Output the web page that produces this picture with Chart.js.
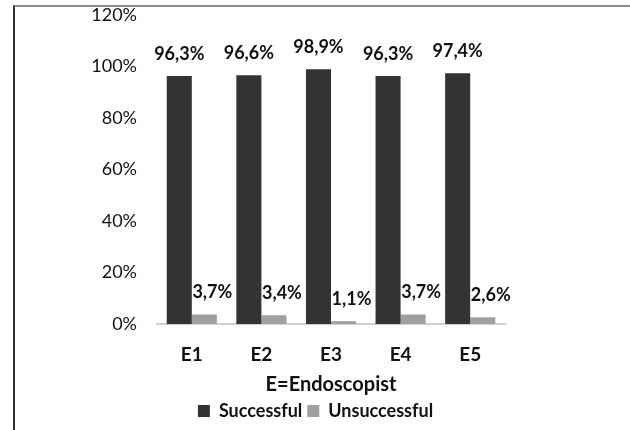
<!DOCTYPE html>
<html>
<head>
<meta charset="utf-8">
<script src="https://cdn.jsdelivr.net/npm/chart.js@4"></script>
<style>
  html, body { margin: 0; padding: 0; background: #fff; }
  #wrap { position: relative; width: 630px; height: 430px; overflow: hidden; }
  #frame { position: absolute; left: 13px; top: 5px; width: 640px; height: 440px;
           border-top: 2px solid #8a8a8a; border-left: 2px solid #333; }
  canvas { position: absolute; left: 0; top: 0; }
</style>
</head>
<body>
<div id="wrap">
  <div id="frame"></div>
  <canvas id="chart" width="630" height="430"></canvas>
</div>
<script>
const categories = ['E1', 'E2', 'E3', 'E4', 'E5'];
const successful = [96.3, 96.6, 98.9, 96.3, 97.4];
const unsuccessful = [3.7, 3.4, 1.1, 3.7, 2.6];
const yTicks = [0, 20, 40, 60, 80, 100, 120];

const FONT = 'Lato, "Open Sans", sans-serif';

// value labels above each bar, comma as decimal separator
const barLabels = {
  id: 'barLabels',
  afterDatasetsDraw(chart) {
    const ctx = chart.ctx;
    ctx.save();
    ctx.font = 'bold 18px ' + FONT;
    ctx.fillStyle = '#111';
    ctx.textAlign = 'center';
    ctx.textBaseline = 'middle';
    chart.data.datasets.forEach((ds, i) => {
      chart.getDatasetMeta(i).data.forEach((bar, j) => {
        const txt = ds.data[j].toFixed(1).replace('.', ',') + '%';
        const dx = i === 1 ? 8 : 0;
        ctx.fillText(txt, bar.x + dx, bar.y - 22);
      });
    });
    ctx.restore();
  }
};

// legend sits a bit right of the plot centre in the original
const shiftLegend = {
  id: 'shiftLegend',
  afterLayout(chart) {
    if (chart.legend) {
      chart.legend.left += 63;
      chart.legend.right += 63;
    }
  }
};

new Chart(document.getElementById('chart'), {
  type: 'bar',
  data: {
    labels: categories,
    datasets: [
      { label: 'Successful', data: successful, backgroundColor: '#333333' },
      { label: 'Unsuccessful', data: unsuccessful, backgroundColor: '#a0a0a0' }
    ]
  },
  options: {
    responsive: false,
    animation: false,
    layout: { padding: { left: 0, right: 125, top: 15, bottom: 0 } },
    datasets: { bar: { categoryPercentage: 0.72, barPercentage: 1 } },
    plugins: {
      legend: {
        position: 'bottom',
        labels: {
          boxWidth: 12, boxHeight: 12, padding: 5,
          color: '#111', font: { family: FONT, size: 18, weight: 'bold', lineHeight: 1 }
        }
      },
      tooltip: { enabled: false }
    },
    scales: {
      x: {
        afterFit(scale) { scale.height = 73; },
        grid: { display: false, drawTicks: false },
        border: { display: true, color: '#d0d0d0', width: 2 },
        ticks: { color: '#111', padding: 19, font: { family: FONT, size: 19, weight: 'bold' } },
        title: {
          display: true, text: 'E=Endoscopist', color: '#111',
          padding: { top: 4, bottom: 0 },
          font: { family: FONT, size: 20, weight: 'bold' }
        }
      },
      y: {
        min: 0, max: 120,
        afterFit(scale) {
          scale.width = 157;
          scale.paddingTop = 0;
          scale.paddingBottom = 0;
        },
        afterBuildTicks(scale) { scale.ticks = yTicks.map(v => ({ value: v })); },
        grid: { display: false, drawTicks: false },
        border: { display: false },
        ticks: {
          color: '#111', padding: 20,
          font: { family: FONT, size: 18 },
          callback: v => v + '%'
        }
      }
    }
  },
  plugins: [barLabels, shiftLegend]
});
</script>
</body>
</html>
